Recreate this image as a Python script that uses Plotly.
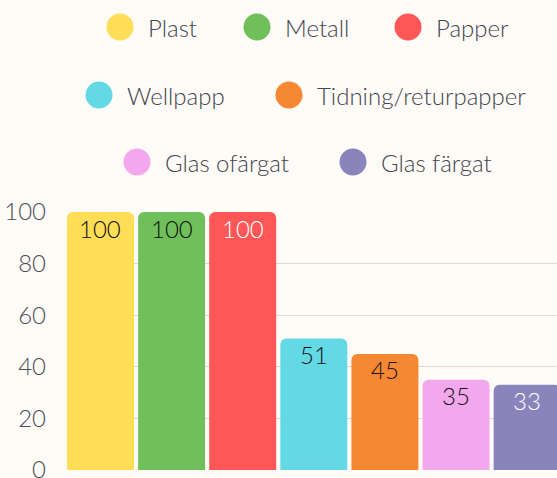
import plotly.graph_objects as go

kategorier = ["Plast", "Metall", "Papper", "Wellpapp", "Tidning/returpapper",
              "Glas ofärgat", "Glas färgat"]
varden = [100, 100, 100, 51, 45, 35, 33]
farger = ["#FFDD57", "#6FC05A", "#FF5757", "#64D9E6", "#F78833", "#F3A8EE", "#8A84BC"]
textfarger = ["#111111", "#111111", "#FFFFFF", "#111111", "#111111", "#111111", "#FFFFFF"]
y_ticks = [0, 20, 40, 60, 80, 100]

W, H = 557, 478
ML, MT, MB = 67, 212, 8
PW, PH = W - ML, H - MT - MB
FONT = "Lato"

fig = go.Figure()
fig.add_trace(go.Bar(
    x=kategorier, y=varden,
    marker=dict(color=farger, cornerradius=6, line=dict(width=0)),
    showlegend=False, hoverinfo="skip",
))

# värdeetiketter i toppen av staplarna
annots = []
for k, v, tf in zip(kategorier, varden, textfarger):
    annots.append(dict(text=str(v), x=k, y=v, xref="x", yref="y",
                       yanchor="middle", yshift=-16, showarrow=False,
                       font=dict(family=FONT, size=24, color=tf, weight=300)))

# egen legend: cirklar + text, centrerade rader
legend_pos = [(120, 27), (257, 27), (408, 27),
              (99, 95), (289, 95),
              (137, 162), (353, 162)]
shapes = []
for namn, farg, (cx, cy) in zip(kategorier, farger, legend_pos):
    px_ = (cx - ML) / PW
    py_ = (H - MB - cy) / PH
    shapes.append(dict(type="circle", xref="paper", yref="paper",
                       xsizemode="pixel", ysizemode="pixel",
                       xanchor=px_, yanchor=py_, x0=-13.5, x1=13.5, y0=-13.5, y1=13.5,
                       fillcolor=farg, line=dict(width=0)))
    annots.append(dict(text=namn, xref="paper", yref="paper",
                       x=(cx + 26 - ML) / PW, y=py_, xanchor="left", yanchor="middle",
                       showarrow=False,
                       font=dict(family=FONT, size=24, color="#3F4552", weight=300)))

fig.update_layout(
    width=W, height=H,
    margin=dict(l=ML, r=0, t=MT, b=MB, autoexpand=False),
    paper_bgcolor="#FFFBF6", plot_bgcolor="#FFFBF6",
    bargap=0.058,
    shapes=shapes, annotations=annots,
    xaxis=dict(range=[-0.471, 6.42], showticklabels=False, showgrid=False,
               zeroline=False, fixedrange=True, automargin=False),
    yaxis=dict(range=[0, 100], tickvals=y_ticks, showgrid=True,
               gridcolor="#DCDAD6", gridwidth=1, zeroline=False,
               ticklabelstandoff=20, ticklabeloverflow="allow", automargin=False,
               tickfont=dict(family=FONT, size=24, color="#4A4F5A", weight=300)),
)

fig.write_html("out.html", config={"displayModeBar": False},
               post_script="document.body.style.margin='0';"
                           "document.body.style.background='#FFFBF6';")
